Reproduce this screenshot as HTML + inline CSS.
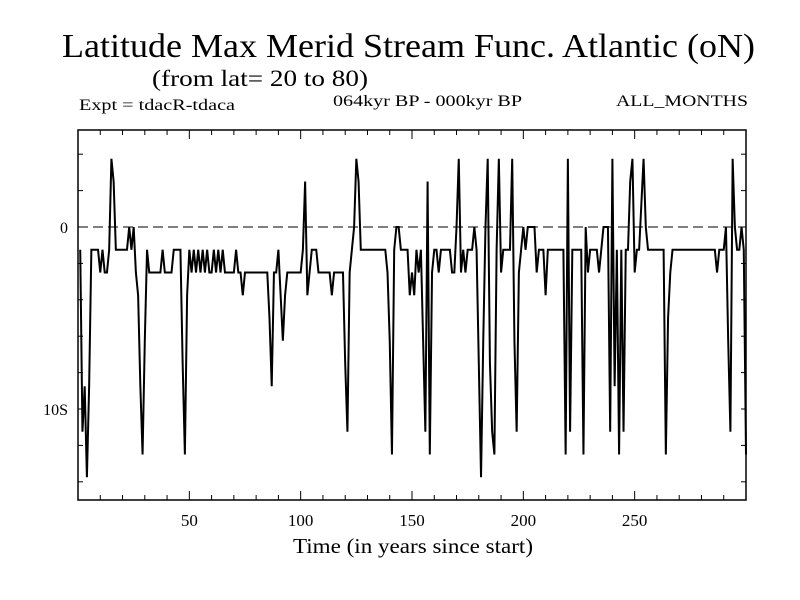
<!DOCTYPE html>
<html><head><meta charset="utf-8"><style>
html,body{margin:0;padding:0;background:#fff;}
svg{display:block;font-family:"Liberation Serif",serif;}
</style></head><body>
<svg id="chart" width="800" height="600" viewBox="0 0 800 600">
<rect width="800" height="600" fill="#fff"/>
<text x="62" y="57" font-size="34" textLength="693" lengthAdjust="spacingAndGlyphs">Latitude Max Merid Stream Func. Atlantic (oN)</text>
<text x="152" y="86" font-size="23" textLength="216" lengthAdjust="spacingAndGlyphs">(from lat= 20 to 80)</text>
<text x="79" y="110" font-size="16" textLength="156" lengthAdjust="spacingAndGlyphs">Expt = tdacR-tdaca</text>
<text x="333" y="106" font-size="16" textLength="189" lengthAdjust="spacingAndGlyphs">064kyr BP - 000kyr BP</text>
<text x="616" y="106" font-size="16" textLength="132" lengthAdjust="spacingAndGlyphs">ALL_MONTHS</text>
<text x="293" y="553" font-size="21" textLength="240" lengthAdjust="spacingAndGlyphs">Time (in years since start)</text>
<g id="axes"></g>
<g id="series"></g>
</svg>
<script>
const xTickValues=[10,20,30,40,50,60,70,80,90,100,110,120,130,140,150,160,170,180,190,200,210,220,230,240,250,260,270,280,290];
const xTickLabels=["50","100","150","200","250"];
const yTickValues=[4,2,0,-2,-4,-6,-8,-10,-12,-14];
const yTickLabels=["0","10S"];
const years=[];
for(let i=1;i<=300;i++)years.push(i);
const values=[
-1.25,-11.25,-8.75,-13.75,-8.75,-1.25,-1.25,-1.25,-1.25,-2.5,
-1.25,-2.5,-2.5,-1.25,3.75,2.5,-1.25,-1.25,-1.25,-1.25,
-1.25,-1.25,0,-1.25,0,-2.5,-3.75,-8.75,-12.5,-6.25,
-1.25,-2.5,-2.5,-2.5,-2.5,-2.5,-2.5,-1.25,-2.5,-2.5,
-2.5,-2.5,-1.25,-1.25,-1.25,-1.25,-7.5,-12.5,-3.75,-1.25,
-2.5,-1.25,-2.5,-1.25,-2.5,-1.25,-2.5,-1.25,-2.5,-2.5,
-1.25,-2.5,-1.25,-2.5,-1.25,-2.5,-2.5,-2.5,-2.5,-2.5,
-1.25,-2.5,-2.5,-3.75,-2.5,-2.5,-2.5,-2.5,-2.5,-2.5,
-2.5,-2.5,-2.5,-2.5,-2.5,-5,-8.75,-2.5,-2.5,-1.25,
-3.75,-6.25,-3.75,-2.5,-2.5,-2.5,-2.5,-2.5,-2.5,-2.5,
-1.25,2.5,-3.75,-2.5,-1.25,-1.25,-1.25,-2.5,-2.5,-2.5,
-2.5,-2.5,-2.5,-3.75,-2.5,-2.5,-2.5,-2.5,-2.5,-7.5,
-11.25,-2.5,-1.25,0,3.75,2.5,-1.25,-1.25,-1.25,-1.25,
-1.25,-1.25,-1.25,-1.25,-1.25,-1.25,-1.25,-1.25,-2.5,-6.25,
-12.5,-1.25,0,0,-1.25,-1.25,-1.25,-1.25,-3.75,-2.5,
-3.75,-1.25,-2.5,-1.25,-6.25,-11.25,2.5,-12.5,-2.5,-1.25,
-1.25,-2.5,-1.25,-1.25,-1.25,-1.25,-1.25,-2.5,-2.5,0,
3.75,-2.5,-1.25,-2.5,-1.25,-1.25,-1.25,0,-1.25,-7.5,
-13.75,-6.25,0,3.75,-7.5,-11.25,-12.5,-1.25,3.75,-2.5,
-1.25,-1.25,-1.25,-1.25,3.75,-6.25,-11.25,-2.5,-1.25,0,
-1.25,0,0,0,0,-2.5,-1.25,-1.25,-1.25,-3.75,
-1.25,-1.25,-1.25,-1.25,-1.25,-1.25,-1.25,-1.25,-12.5,3.75,
-11.25,-1.25,-1.25,-1.25,-1.25,-1.25,-12.5,0,-2.5,-1.25,
-1.25,-1.25,-1.25,-2.5,-1.25,0,0,0,-11.25,3.75,
-8.75,-1.25,-12.5,-1.25,-11.25,-1.25,-1.25,2.5,3.75,-2.5,
-1.25,-1.25,1.25,3.75,0,-1.25,-1.25,-1.25,-1.25,-1.25,
-1.25,-1.25,-1.25,-12.5,-5,-2.5,-1.25,-1.25,-1.25,-1.25,
-1.25,-1.25,-1.25,-1.25,-1.25,-1.25,-1.25,-1.25,-1.25,-1.25,
-1.25,-1.25,-1.25,-1.25,-1.25,-1.25,-2.5,-1.25,-1.25,-1.25,
0,-6.25,-11.25,3.75,0,-1.25,-1.25,0,-1.25,-12.5
];
const L=78,R=746,T=130,B=500;
function xs(t){return L+(t-0)*(R-L)/300;}
function ys(v){return 227-v*18.2;}
const NS="http://www.w3.org/2000/svg";
const axes=document.getElementById('axes');
const series=document.getElementById('series');
function mk(tag,attrs,parent){const e=document.createElementNS(NS,tag);for(const k in attrs)e.setAttribute(k,attrs[k]);parent.appendChild(e);return e;}
const frame=mk('rect',{x:L,y:T,width:R-L,height:B-T,fill:'none',stroke:'#000','stroke-width':1.5},axes);


const zl=mk('line',{x1:L,x2:R,y1:ys(0),y2:ys(0),stroke:'#000','stroke-width':1,'stroke-dasharray':'10,5'},axes);


xTickValues.forEach(t=>{
  const major=(t%50===0);const len=major?9:5;const x=xs(t);
  const a=mk('line',{x1:x,x2:x,y1:B,y2:B-len,stroke:'#000','stroke-width':1},axes);
  
  
  const b=mk('line',{x1:x,x2:x,y1:T,y2:T+len,stroke:'#000','stroke-width':1},axes);
  
  
  if(major){
    const tx=mk('text',{x:x,y:B+26,'font-size':17,'text-anchor':'middle'},axes);
    tx.textContent=xTickLabels[t/50-1];
    
    
  }
});
yTickValues.forEach(v=>{
  const y=ys(v);
  const a=mk('line',{x1:L,x2:L+5,y1:y,y2:y,stroke:'#000','stroke-width':1},axes);
  
  
  const b=mk('line',{x1:R,x2:R-5,y1:y,y2:y,stroke:'#000','stroke-width':1},axes);
  
  
  if(v===0||v===-10){
    const tx=mk('text',{x:L-10,y:y+6,'font-size':16,'text-anchor':'end'},axes);
    tx.textContent=v===0?yTickLabels[0]:yTickLabels[1];
    
    
  }
});
const d=values.map((v,i)=>(i?'L':'M')+xs(years[i]).toFixed(2)+','+ys(v).toFixed(2)).join('');
const p=mk('path',{d:d,fill:'none',stroke:'#000','stroke-width':2,'stroke-linejoin':'miter'},series);


</script>
</body></html>
